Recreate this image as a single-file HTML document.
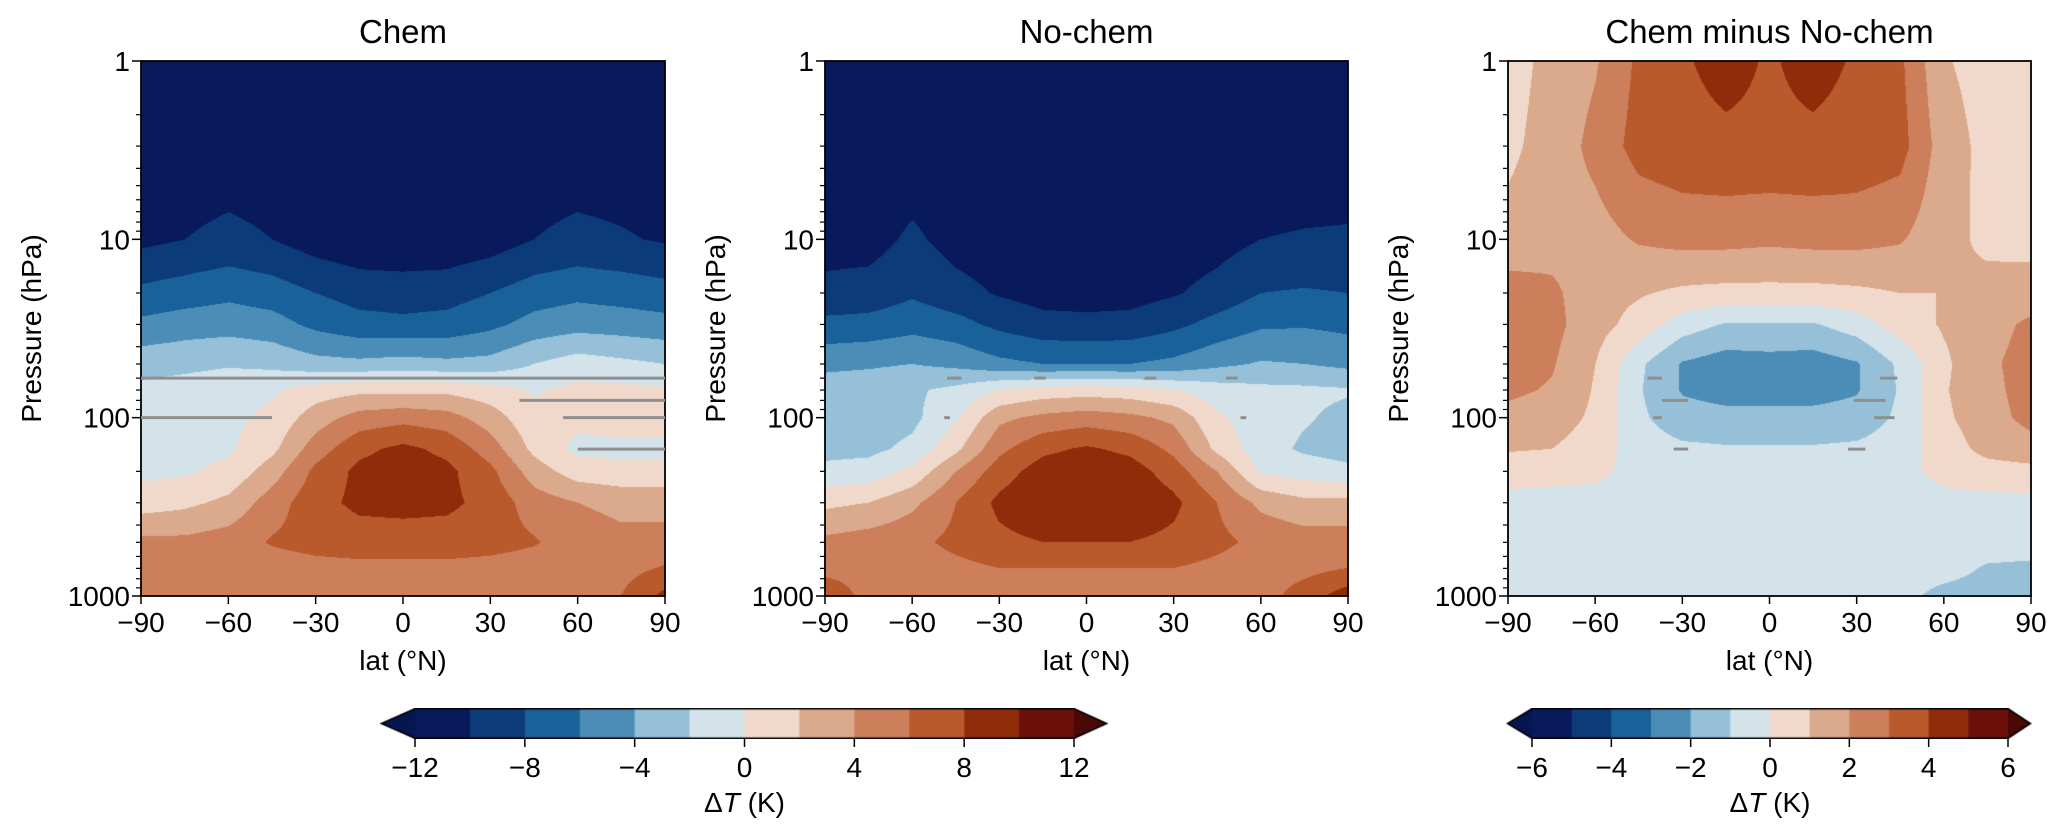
<!DOCTYPE html>
<html><head><meta charset="utf-8">
<style>
html,body{margin:0;padding:0;background:#fff;}
#wrap{position:relative;width:2067px;height:840px;overflow:hidden;font-family:"Liberation Sans","DejaVu Sans",sans-serif;}
canvas{position:absolute;}
svg{position:absolute;left:0;top:0;}
</style></head>
<body>
<div id="wrap">
<canvas id="c1" style="left:141px;top:61px" width="524" height="535"></canvas>
<canvas id="c2" style="left:825px;top:61px" width="523" height="535"></canvas>
<canvas id="c3" style="left:1508px;top:61px" width="523" height="535"></canvas>
<canvas id="cb1" style="left:380px;top:708px" width="728" height="31"></canvas>
<canvas id="cb2" style="left:1506px;top:708px" width="526" height="31"></canvas>
<svg id="ov" width="2067" height="840"></svg>
</div>
<script>
const lats = [-90,-75,-60,-45,-30,-15,0,15,30,45,60,75,90];
const pressures = [1,3,10,20,30,50,70,100,150,200,300,500,700,1000];
const chemVals = [
[-11.5,-11.5,-11.5,-11.5,-11.5,-11.5,-11.5,-11.5,-11.5,-11.5,-11.5,-11.5,-11.5],
[-11.2,-11.2,-11.2,-11.2,-11.2,-11.2,-11.2,-11.2,-11.2,-11.2,-11.2,-11.2,-11.2],
[-10.5,-10,-9.5,-10,-11,-11.5,-11.5,-11.5,-11,-10,-9.5,-9.8,-10.2],
[-7.5,-7,-6.5,-7,-8,-8.8,-9,-8.8,-8,-7,-6.5,-6.8,-7.2],
[-5.5,-5,-4.8,-5.2,-6.5,-7.3,-7.5,-7.3,-6.5,-5.3,-4.8,-5,-5.3],
[-2.8,-2.5,-2.2,-2.5,-3.3,-3.5,-3.2,-3.5,-3.3,-2,-1,-1.5,-2],
[-1.5,-1.2,-0.8,-0.3,1,1.5,1.5,1.5,0.8,-0.2,0.5,0.5,0.3],
[-1,-0.8,-0.5,0.5,3,4.8,5.3,4.8,3,0.5,0.5,1,0.8],
[-0.8,-0.5,-0.3,1.5,5,7.5,8.5,7.5,5,1.5,-0.5,-0.5,-0.5],
[-0.5,-0.3,0.5,3,6.5,8.5,9,8.5,6.5,3,1,0.5,0.5],
[1,1.5,2.5,5,7.3,8.5,8.7,8.5,7.3,5,4,3.5,3.5],
[4.5,4.5,5,6.2,6.8,7,7,7,6.8,6.2,5,4.5,4.5],
[4.5,4.5,4.8,5,5.3,5.5,5.5,5.5,5.3,5,5,5.2,6.2],
[4.5,4.5,4.5,4.5,4.5,4.5,4.5,4.5,4.5,4.5,5,6,8.5]
];
const nochemVals = [
[-11.5,-11.5,-11.5,-11.5,-11.5,-11.5,-11.5,-11.5,-11.5,-11.5,-11.5,-11.5,-11.5],
[-11.5,-11.5,-11.5,-11.5,-11.5,-11.5,-11.5,-11.5,-11.5,-11.5,-11.5,-11.5,-11.5],
[-11,-10.8,-9.6,-10.8,-11.2,-11.5,-11.5,-11.5,-11.2,-10.8,-10,-9.8,-9.7],
[-9.3,-9.2,-8.3,-9.3,-10.2,-10.8,-10.8,-10.8,-10.2,-9.3,-8,-7.8,-8],
[-7.5,-7.3,-6.7,-7.3,-8.5,-9.3,-9.5,-9.3,-8.5,-7.3,-6.3,-6.2,-6.5],
[-4.5,-4.3,-4,-4.5,-5.5,-6,-6,-6,-5.5,-4.5,-3.8,-4,-4.5],
[-3,-2.8,-2.3,-1.5,0,0.8,1,0.8,0,-1,-1.5,-1.6,-1.8],
[-3,-3,-2.5,-0.3,3.5,4.5,5,4.5,3.5,0.3,-1,-1.8,-2.5],
[-2.6,-2.5,-1.5,1.5,5.5,7.5,8.3,7.5,5.5,1.5,-1.2,-2.3,-2.8],
[-1.5,-1.2,0.5,4,7,9,9.5,9,7,4,-0.3,-1,-1.5],
[1.5,2,3.5,6,8.5,9.8,10,9.8,8.5,6,3.5,2.5,2.5],
[4.5,5,5.5,6.5,7.5,8,8,8,7.5,6.5,5.5,5,5],
[5,5,5,5.5,6,6,6,6,6,5.5,5,5.3,6],
[8,5,4.5,4.5,4.5,4.5,4.5,4.5,4.5,4.5,5,7,9]
];
const diffVals = [
[0.6,1.3,1.9,3.2,3.9,4.3,3.9,4.3,3.9,3.2,1.1,0.6,0.5],
[0.8,1.4,2.3,3.4,3.7,3.8,3.8,3.8,3.7,3.4,1.5,0.7,0.6],
[1.3,1.6,1.6,2.1,2.3,2.3,2.2,2.3,2.3,2.1,1.3,0.8,0.7],
[2.5,2.2,1.4,1.1,0.8,0.7,0.7,0.7,0.8,1.0,1.0,1.3,1.4],
[2.6,2.3,1.4,0.6,-0.5,-1.1,-1.1,-1.1,-0.5,0.5,1.1,1.6,2.2],
[2.4,2.1,1.0,-0.8,-2.1,-2.5,-2.4,-2.5,-2.1,-0.8,0.8,1.8,2.4],
[2.2,1.9,0.9,-0.9,-2.1,-2.4,-2.4,-2.4,-2.1,-0.9,0.9,1.7,2.4],
[1.7,1.5,0.8,-0.8,-1.6,-1.7,-1.7,-1.7,-1.6,-0.8,0.8,1.6,2.3],
[1.1,1.0,0.5,-0.5,-0.8,-0.9,-0.9,-0.9,-0.8,-0.5,0.5,1.3,1.6],
[0.4,0.3,0.2,-0.3,-0.5,-0.5,-0.5,-0.5,-0.5,-0.3,0.3,0.6,0.7],
[-0.3,-0.3,-0.3,-0.4,-0.4,-0.4,-0.4,-0.4,-0.4,-0.4,-0.3,-0.3,-0.3],
[-0.5,-0.5,-0.5,-0.5,-0.5,-0.5,-0.5,-0.5,-0.5,-0.5,-0.5,-0.5,-0.5],
[-0.5,-0.5,-0.5,-0.5,-0.5,-0.5,-0.5,-0.5,-0.5,-0.5,-0.6,-1.1,-1.2],
[-0.5,-0.5,-0.5,-0.5,-0.5,-0.5,-0.5,-0.5,-0.5,-0.7,-1.3,-1.4,-1.4]
];
const absTicks = [-12,-8,-4,0,4,8,12];
const diffTicks = [-6,-4,-2,0,2,4,6];
const latTicks = [-90,-60,-30,0,30,60,90];
const pTicks = [1,10,100,1000];
const titles = ["Chem","No-chem","Chem minus No-chem"];

const colors = ['#08195c','#0b3b78','#18619a','#4b8db7','#96c0d7','#d4e2ea','#f0d9cb','#dba98c','#cc7f5a','#b95a2c','#912c0b','#6b0f0a'];
const under = '#061650', over = '#4a0806';
function hex(c){return [parseInt(c.slice(1,3),16),parseInt(c.slice(3,5),16),parseInt(c.slice(5,7),16)];}
const rgb = colors.map(hex);
function colorFor(v, vmin, step){
  const i = Math.floor((v - vmin)/step);
  if (i < 0) return hex(under);
  if (i >= colors.length) return hex(over);
  return rgb[i];
}
const logP = pressures.map(p=>Math.log10(p));
function sample(grid, lat, lp){
  let fx = (lat+90)/15; let ix = Math.min(Math.floor(fx), lats.length-2); let tx = fx-ix;
  let j = 0; while (j < logP.length-2 && lp > logP[j+1]) j++;
  let ty = (lp-logP[j])/(logP[j+1]-logP[j]); ty=Math.max(0,Math.min(1,ty));
  const a=grid[j][ix], b=grid[j][ix+1], c=grid[j+1][ix], d=grid[j+1][ix+1];
  return (a*(1-tx)+b*tx)*(1-ty)+(c*(1-tx)+d*tx)*ty;
}
function drawField(id, grid, vmin, step){
  const cv=document.getElementById(id), ctx=cv.getContext('2d');
  const W=cv.width, H=cv.height, img=ctx.createImageData(W,H);
  for(let y=0;y<H;y++){
    const lp = (y/(H-1))*3;
    for(let x=0;x<W;x++){
      const lat = -90 + 180*x/(W-1);
      const col = colorFor(sample(grid,lat,lp), vmin, step);
      const k=(y*W+x)*4; img.data[k]=col[0]; img.data[k+1]=col[1]; img.data[k+2]=col[2]; img.data[k+3]=255;
    }
  }
  ctx.putImageData(img,0,0);
}
drawField('c1', chemVals, -12, 2);
drawField('c2', nochemVals, -12, 2);
drawField('c3', diffVals, -6, 1);

function drawBar(id, x0, x1, ax0, ax1){
  const cv=document.getElementById(id), ctx=cv.getContext('2d');
  const left=cv.offsetLeft, H=cv.height;
  const w=(x1-x0)/colors.length;
  colors.forEach((c,i)=>{ctx.fillStyle=c; ctx.fillRect(x0-left+i*w, 0, w+0.6, H);});
  ctx.fillStyle=under; ctx.beginPath(); ctx.moveTo(x0-left,0); ctx.lineTo(ax0-left,H/2); ctx.lineTo(x0-left,H); ctx.fill();
  ctx.fillStyle=over; ctx.beginPath(); ctx.moveTo(x1-left,0); ctx.lineTo(ax1-left,H/2); ctx.lineTo(x1-left,H); ctx.fill();
  ctx.strokeStyle='#000'; ctx.lineWidth=1.5; ctx.beginPath();
  ctx.moveTo(x0-left,0.75); ctx.lineTo(x1-left,0.75); ctx.lineTo(ax1-left-0.5,H/2); ctx.lineTo(x1-left,H-0.75);
  ctx.lineTo(x0-left,H-0.75); ctx.lineTo(ax0-left+0.5,H/2); ctx.closePath(); ctx.stroke();
}
drawBar('cb1', 415, 1074, 381, 1107);
drawBar('cb2', 1532, 2008, 1507, 2031);

const NS='http://www.w3.org/2000/svg';
const ov=document.getElementById('ov');
function el(tag, attrs, text){
  const e=document.createElementNS(NS,tag);
  for(const k in attrs) e.setAttribute(k, attrs[k]);
  if(text!==undefined) e.textContent=text;
  ov.appendChild(e); return e;
}
const panels=[{x0:141,x1:665},{x0:825,x1:1348},{x0:1508,x1:2031}];
const Y0=61, Y1=596;
function yOf(p){return Y0+(Math.log10(p)/3)*(Y1-Y0);}
panels.forEach((pn,pi)=>{
  const xOf = lat => pn.x0+(lat+90)/180*(pn.x1-pn.x0);
  const fr=el('rect',{x:pn.x0,y:Y0,width:pn.x1-pn.x0,height:Y1-Y0,fill:'none',stroke:'#000','stroke-width':1.8});
  
  
  const t=el('text',{x:(pn.x0+pn.x1)/2,y:43,'font-size':33,'text-anchor':'middle',fill:'#000'},titles[pi]);
  
  
  latTicks.forEach(l=>{
    const x=xOf(l);
    el('line',{x1:x,y1:Y1,x2:x,y2:Y1+8,stroke:'#000','stroke-width':1.5});
    const tl=el('text',{x:x,y:632,'font-size':28,'text-anchor':'middle'},(l<0?'\u2212'+(-l):''+l));
    
    
  });
  for(let d=0; d<3; d++) for(let m=2;m<10;m++){
    const y=yOf(Math.pow(10,d)*m);
    el('line',{x1:pn.x0-5,y1:y,x2:pn.x0,y2:y,stroke:'#000','stroke-width':1.2});
  }
  pTicks.forEach(p=>{
    const y=yOf(p);
    el('line',{x1:pn.x0-9,y1:y,x2:pn.x0,y2:y,stroke:'#000','stroke-width':1.5});
    const tl=el('text',{x:pn.x0-11,y:y+10,'font-size':28,'text-anchor':'end'},''+p);
    
    
  });
  const xl=el('text',{x:(pn.x0+pn.x1)/2,y:670,'font-size':28,'text-anchor':'middle'},'lat (°N)');
  
  
  const yl=el('text',{x:0,y:0,'font-size':28,'text-anchor':'middle',transform:'translate('+(pn.x0-100)+','+((Y0+Y1)/2)+') rotate(-90)'},'Pressure (hPa)');
  
  
});
// significance markers: [panelIndex, latStart, latEnd, pressure]
const sigMarks=[[0,-90,90,60],[0,40,90,80],[0,-90,-45,100],[0,55,90,100],[0,60,90,150],
  [1,-48,-43,60],[1,-18,-14,60],[1,20,24,60],[1,48,52,60],[1,-49,-47,100],[1,53,55,100],
  [2,-37,-28,80],[2,29,40,80],[2,-42,-37,60],[2,38,44,60],[2,-40,-37,100],[2,36,43,100],[2,-33,-28,150],[2,27,33,150]];
sigMarks.forEach(s=>{
  const pn=panels[s[0]];
  const xOf=lat=>pn.x0+(lat+90)/180*(pn.x1-pn.x0);
  const ln=el('line',{x1:xOf(s[1]),x2:xOf(s[2]),y1:yOf(s[3]),y2:yOf(s[3]),stroke:'#8f8f8f','stroke-width':3});
  
  
});
function barTicks(ticks, x0, x1){
  ticks.forEach((v,i)=>{
    const x=x0+(x1-x0)*i/(ticks.length-1);
    el('line',{x1:x,y1:739,x2:x,y2:747,stroke:'#000','stroke-width':1.5});
    const tl=el('text',{x:x,y:777,'font-size':28,'text-anchor':'middle'},(v<0?'\u2212'+(-v):''+v));
    
    
  });
  const lb=el('text',{x:(x0+x1)/2,y:812,'font-size':28,'text-anchor':'middle'});
  
  
  lb.innerHTML='\u0394<tspan font-style="italic">T</tspan> (K)';
}
barTicks(absTicks,415,1074);
barTicks(diffTicks,1532,2008);
</script>
</body></html>
